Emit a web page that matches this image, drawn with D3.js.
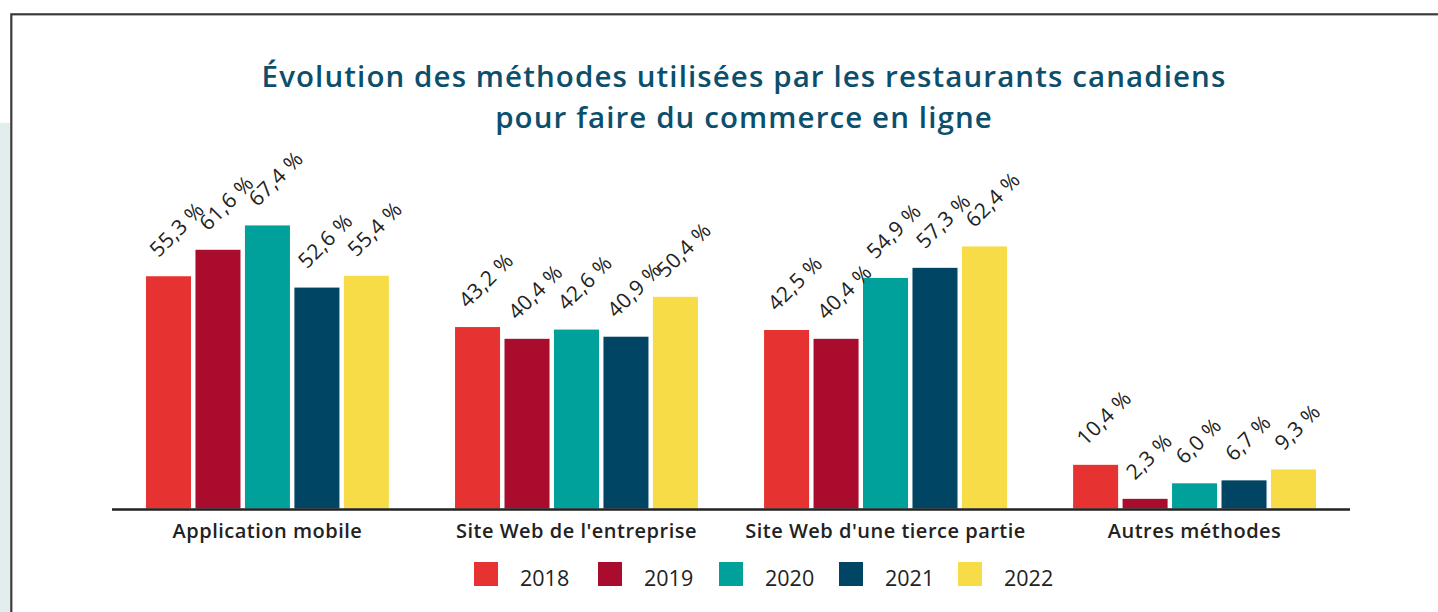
<!DOCTYPE html>
<html><head><meta charset="utf-8">
<script src="https://cdn.jsdelivr.net/npm/d3@7"></script>
<style>
html,body{margin:0;padding:0;background:#fff;}
svg{display:block;font-family:"Open Sans",sans-serif;}
</style></head>
<body>
<svg id="chart" width="1438" height="612"></svg>
<script>
const categories = ["Application mobile", "Site Web de l'entreprise", "Site Web d'une tierce partie", "Autres méthodes"];
const years = ["2018", "2019", "2020", "2021", "2022"];
const v2018 = [55.3, 43.2, 42.5, 10.4];
const v2019 = [61.6, 40.4, 40.4, 2.3];
const v2020 = [67.4, 42.6, 54.9, 6.0];
const v2021 = [52.6, 40.9, 57.3, 6.7];
const v2022 = [55.4, 50.4, 62.4, 9.3];
const colors = ["#e63331", "#a90c2c", "#00a19a", "#004563", "#f7dc47"];
const titleLines = ["Évolution des méthodes utilisées par les restaurants canadiens", "pour faire du commerce en ligne"];

const series = [v2018, v2019, v2020, v2021, v2022];
const svg = d3.select("#chart");

// background decorations
svg.append("rect").attr("x", 0).attr("y", 123).attr("width", 10).attr("height", 500).attr("fill", "#e1eeed");
svg.append("rect").attr("x", 11.3).attr("y", 14.3).attr("width", 1500).attr("height", 700)
  .attr("fill", "#fff").attr("stroke", "#3b3b3b").attr("stroke-width", 2.2);

// title
svg.append("g").selectAll("text").data(titleLines).join("text")
  .attr("x", 744).attr("y", (d, i) => 87 + i * 40.5)
  .attr("text-anchor", "middle").attr("fill", "#0c4f6c")
  .attr("font-size", 29.5).attr("font-weight", 600).attr("letter-spacing", 1.1)
  .text(d => d);

const x0 = d3.scaleBand().domain(categories).range([112, 1350]).paddingInner(0.214).paddingOuter(0.11);
const x1 = d3.scaleBand().domain(years).range([0, x0.bandwidth()]).paddingInner(0.09);
const y = d3.scaleLinear().domain([0, 100]).range([508.5, 88.5]);
const fmt = v => d3.format(".1f")(v).replace(".", ",") + " %";

const groups = svg.append("g").selectAll("g").data(categories).join("g")
  .attr("transform", d => `translate(${x0(d)},0)`);

groups.selectAll("rect").data((c, ci) => years.map((yr, k) => ({yr, k, v: series[k][ci]}))).join("rect")
  .attr("x", d => x1(d.yr)).attr("y", d => y(d.v))
  .attr("width", x1.bandwidth()).attr("height", d => y(0) - y(d.v))
  .attr("fill", d => colors[d.k]);

groups.selectAll("text").data((c, ci) => years.map((yr, k) => ({yr, k, v: series[k][ci]}))).join("text")
  .attr("transform", d => `translate(${x1(d.yr) + x1.bandwidth() / 2 - 10},${y(d.v) - 18}) rotate(-45)`)
  .attr("font-size", 21).attr("font-weight", 500).attr("fill", "#222").attr("letter-spacing", 0.4)
  .text(d => fmt(d.v));

// axis
const axis = svg.append("g").attr("transform", `translate(0,${y(0)})`)
  .call(d3.axisBottom(x0).tickSize(0).tickPadding(15));
axis.select(".domain").attr("stroke", "#222").attr("stroke-width", 2.5).attr("d", "M112,1H1350");
axis.selectAll(".tick text").attr("font-size", 20).attr("font-weight", 600).attr("fill", "#222")
  .attr("letter-spacing", 0.5).attr("font-family", "'Open Sans', sans-serif");

// legend
const legendX = [474, 598, 719, 839, 958];
const leg = svg.append("g").selectAll("g").data(years).join("g")
  .attr("transform", (d, i) => `translate(${legendX[i]},562)`);
leg.append("rect").attr("width", 24).attr("height", 24).attr("fill", (d, i) => colors[i]);
leg.append("text").attr("x", 46).attr("y", 24).attr("font-size", 21.5).attr("fill", "#222").text(d => d);
</script>
</body></html>
